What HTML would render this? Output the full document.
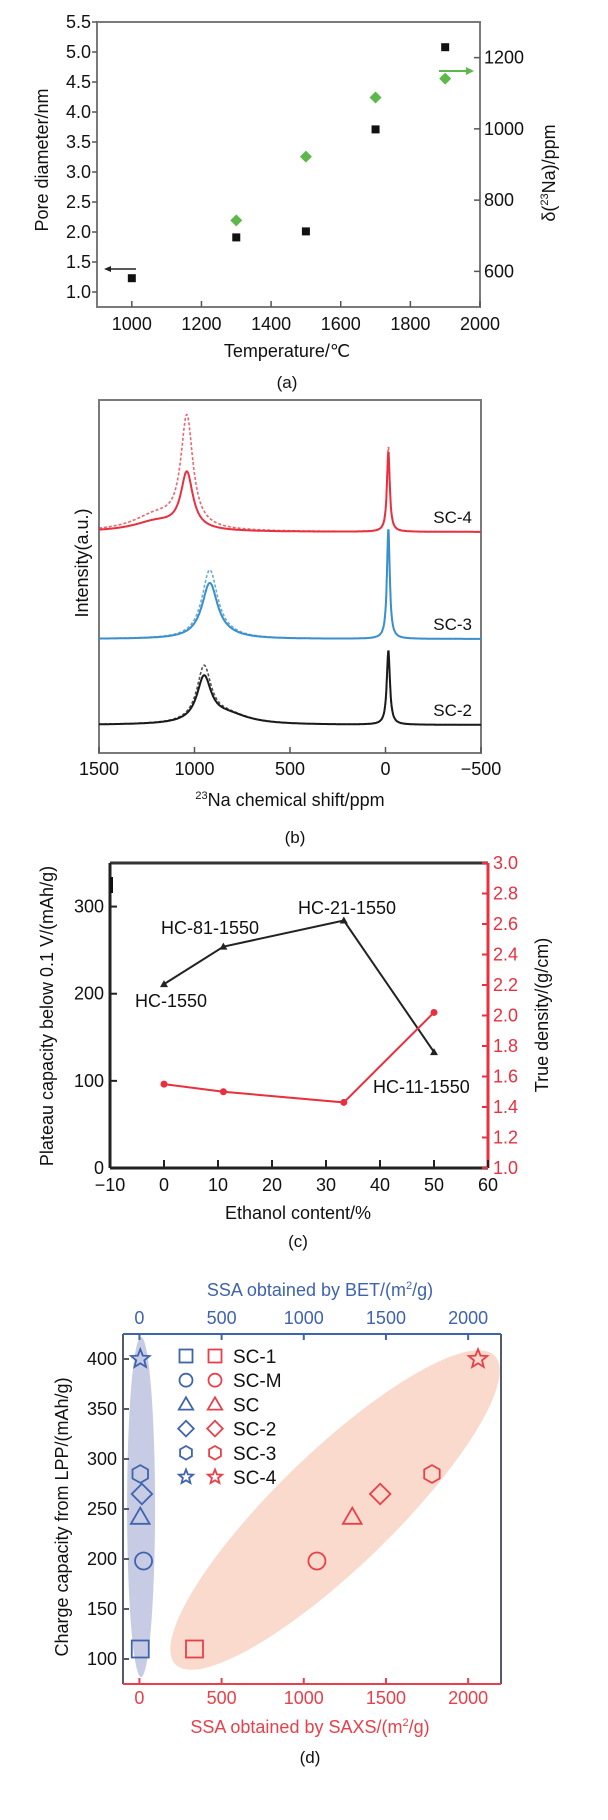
<!DOCTYPE html>
<html><head><meta charset="utf-8"><style>
html,body{margin:0;padding:0;background:#fff;}
svg{display:block;font-family:"Liberation Sans",Arial,sans-serif;}
</style></head><body>
<svg id="fig" width="608" height="1820" viewBox="0 0 608 1820" xmlns="http://www.w3.org/2000/svg">
<g id="pa"></g>
<g id="pb"></g>
<g id="pc"></g>
<g id="pd"></g>
</svg>
<script>
// ---------- Panel (a) data ----------
const aTemps = [1000, 1300, 1500, 1700, 1900];
const aPore = [1.23, 1.91, 2.01, 3.71, 5.08];
const aShiftTemps = [1300, 1500, 1700, 1900];
const aShift = [743, 922, 1088, 1141];
const aXTicks = [1000, 1200, 1400, 1600, 1800, 2000];
const aYTicks = [1.0, 1.5, 2.0, 2.5, 3.0, 3.5, 4.0, 4.5, 5.0, 5.5];
const aY2Ticks = [600, 800, 1000, 1200];
// ---------- Panel (b) data (peak components: center ppm, height, HWHM) ----------
const bSeries = ["SC-2", "SC-3", "SC-4"];
const bOffsets = [28, 114, 221];
const bCenters = [[950, -15, 830], [920, -15, 830], [1040, -15, 1200]];
const bHeights = [[44, 74, 10], [55, 110, 2], [56, 80, 10]];
const bHeightsDash = [[54, 70, 10], [68, 104, 2], [110, 85, 16]];
const bWidths = [[45, 10, 140], [50, 9, 100], [38, 9, 150]];
const bXTicks = [1500, 1000, 500, 0, -500];
// ---------- Panel (c) data ----------
const cEthanol = [0, 11, 33.3, 50];
const cPlateau = [211, 254, 284, 133];
const cDensity = [1.55, 1.50, 1.43, 2.02];
const cNames = ["HC-1550", "HC-81-1550", "HC-21-1550", "HC-11-1550"];
const cXTicks = [-10, 0, 10, 20, 30, 40, 50, 60];
const cYTicks = [0, 100, 200, 300];
const cY2Ticks = [1.0, 1.2, 1.4, 1.6, 1.8, 2.0, 2.2, 2.4, 2.6, 2.8, 3.0];
// ---------- Panel (d) data ----------
const dNames = ["SC-1", "SC-M", "SC", "SC-2", "SC-3", "SC-4"];
const dShapes = ["square", "circle", "triangle", "diamond", "hexagon", "star"];
const dCap = [110, 198, 242, 265, 285, 400];
const dBET = [5, 25, 5, 15, 5, 5];
const dSAXS = [335, 1080, 1295, 1465, 1780, 2060];
const dXTicks = [0, 500, 1000, 1500, 2000];
const dYTicks = [100, 150, 200, 250, 300, 350, 400];

const NS = "http://www.w3.org/2000/svg";
function mk(parent, tag, attrs, text){
  const e = document.createElementNS(NS, tag);
  for (const k in attrs) e.setAttribute(k, attrs[k]);
  if (text !== undefined) e.textContent = text;
  parent.appendChild(e);
  return e;
}
function lin(d0, d1, r0, r1){ return v => r0 + (v - d0) * (r1 - r0) / (d1 - d0); }
function fmt1(v){ return v.toFixed(1); }

// ================= PANEL A =================
(function(){
  const g = document.getElementById('pa');
  const L=97,R=480,T=22,B=307;
  const x = lin(900,2000,L,R), y = lin(0.75,5.5,B,T), y2 = lin(500,1300,B,T);
  let e = mk(g,'rect',{x:L,y:T,width:R-L,height:B-T,fill:'none',stroke:'#7a7a7a','stroke-width':2});
   
  aXTicks.forEach(t=>{
    e = mk(g,'line',{x1:x(t),x2:x(t),y1:B,y2:B-6,stroke:'#555','stroke-width':1.5});
     
    e = mk(g,'text',{x:x(t),y:B+23,'text-anchor':'middle','font-size':18,fill:'#111'},String(t));
     
  });
  aYTicks.forEach(t=>{
    e = mk(g,'line',{x1:L-5,x2:L,y1:y(t),y2:y(t),stroke:'#555','stroke-width':1.5});
     
    e = mk(g,'text',{x:L-6,y:y(t)+6,'text-anchor':'end','font-size':18,fill:'#111'},fmt1(t));
     
  });
  aY2Ticks.forEach(t=>{
    e = mk(g,'line',{x1:R-6,x2:R,y1:y2(t),y2:y2(t),stroke:'#555','stroke-width':1.5});
     
    e = mk(g,'text',{x:R+4,y:y2(t)+6,'text-anchor':'start','font-size':18,fill:'#111'},String(t));
     
  });
  aTemps.forEach((t,i)=>{
    e = mk(g,'rect',{x:x(t)-4,y:y(aPore[i])-4,width:8,height:8,fill:'#111'});
     
  });
  aShiftTemps.forEach((t,i)=>{
    const cx=x(t), cy=y2(aShift[i]);
    e = mk(g,'polygon',{points:`${cx},${cy-6} ${cx+6},${cy} ${cx},${cy+6} ${cx-6},${cy}`,fill:'#5cb84a'});
     
  });
  e = mk(g,'line',{x1:136,x2:108,y1:269,y2:269,stroke:'#222','stroke-width':1.5});
   
  mk(g,'polygon',{points:'104,269 111,266 111,272',fill:'#222'});
  e = mk(g,'line',{x1:439,x2:468,y1:71,y2:71,stroke:'#5cb84a','stroke-width':2});
   
  mk(g,'polygon',{points:'474,71 466,67 466,75',fill:'#5cb84a'});
  e = mk(g,'text',{x:0,y:0,transform:'translate(48,160) rotate(-90)','text-anchor':'middle','font-size':18,fill:'#111'},'Pore diameter/nm');
   
  e = mk(g,'text',{x:0,y:0,transform:'translate(555,173) rotate(-90)','text-anchor':'middle','font-size':18,fill:'#111'});
   
  e.innerHTML = 'δ(<tspan font-size="11" dy="-7">23</tspan><tspan dy="7">Na)/ppm</tspan>';
  e = mk(g,'text',{x:287,y:357,'text-anchor':'middle','font-size':18,fill:'#111'},'Temperature/℃');
   
  e = mk(g,'text',{x:287,y:388,'text-anchor':'middle','font-size':17,fill:'#111'},'(a)');
   
})();

// ================= PANEL B =================
(function(){
  const g = document.getElementById('pb');
  const L=99,R=481,T=400,B=753;
  const x = lin(1500,-500,L,R), y = lin(0,353,B,T);
  let e = mk(g,'rect',{x:L,y:T,width:R-L,height:B-T,fill:'none',stroke:'#7a7a7a','stroke-width':2});
   
  const cols = ['#1a1a1a','#3a8fcc','#e8303f'];
  function curve(s, heights){
    let d='';
    for(let p=1500;p>=-500;p-=2){
      let v=bOffsets[s];
      for(let k=0;k<bCenters[s].length;k++){
        const w=bWidths[s][k], dx=p-bCenters[s][k];
        v += heights[s][k]*w*w/(dx*dx+w*w);
      }
      d += (d?'L':'M')+x(p).toFixed(1)+','+y(v).toFixed(1);
    }
    return d;
  }
  bSeries.forEach((n,s)=>{
    e = mk(g,'path',{d:curve(s,bHeightsDash),fill:'none',stroke:cols[s],'stroke-width':1.6,'stroke-dasharray':'3,2',opacity:0.75});
     
    e = mk(g,'path',{d:curve(s,bHeights),fill:'none',stroke:cols[s],'stroke-width':2});
     
    e = mk(g,'text',{x:472,y:y(bOffsets[s])-9,'text-anchor':'end','font-size':17,fill:'#111'},n);
     
  });
  bXTicks.forEach(t=>{
    e = mk(g,'line',{x1:x(t),x2:x(t),y1:B,y2:B-6,stroke:'#555','stroke-width':1.5});
     
    e = mk(g,'text',{x:x(t),y:B+22,'text-anchor':'middle','font-size':18,fill:'#111'},t<0?'−'+(-t):String(t));
     
  });
  e = mk(g,'text',{x:0,y:0,transform:'translate(88,563) rotate(-90)','text-anchor':'middle','font-size':18,fill:'#111'},'Intensity(a.u.)');
   
  e = mk(g,'text',{x:290,y:806,'text-anchor':'middle','font-size':18,fill:'#111'});
   
  e.innerHTML = '<tspan font-size="11" dy="-7">23</tspan><tspan dy="7">Na chemical shift/ppm</tspan>';
  e = mk(g,'text',{x:295,y:843,'text-anchor':'middle','font-size':17,fill:'#111'},'(b)');
   
})();

// ================= PANEL C =================
(function(){
  const g = document.getElementById('pc');
  const L=110,R=488,T=863,B=1168;
  const x = lin(-10,60,L,R), y = lin(0,350,B,T), y2 = lin(1.0,3.0,B,T);
  let e = mk(g,'line',{x1:L,x2:R,y1:T,y2:T,stroke:'#333','stroke-width':3});
   
  e = mk(g,'line',{x1:L,x2:L,y1:T,y2:B,stroke:'#222','stroke-width':3});
   
  mk(g,'rect',{x:L,y:T+14,width:3,height:16,fill:'#111'});
  e = mk(g,'line',{x1:L,x2:R,y1:B,y2:B,stroke:'#222','stroke-width':3});
   
  e = mk(g,'line',{x1:R,x2:R,y1:T,y2:B,stroke:'#e8303f','stroke-width':3});
   
  cXTicks.forEach(t=>{
    e = mk(g,'line',{x1:x(t),x2:x(t),y1:B,y2:B-8,stroke:'#222','stroke-width':2});
     
    e = mk(g,'text',{x:x(t),y:B+23,'text-anchor':'middle','font-size':18,fill:'#111'},t<0?'−'+(-t):String(t));
     
  });
  cYTicks.forEach(t=>{
    e = mk(g,'line',{x1:L,x2:L+7,y1:y(t),y2:y(t),stroke:'#222','stroke-width':2});
     
    e = mk(g,'text',{x:L-6,y:y(t)+6,'text-anchor':'end','font-size':18,fill:'#111'},String(t));
     
  });
  cY2Ticks.forEach(t=>{
    e = mk(g,'line',{x1:R-6,x2:R,y1:y2(t),y2:y2(t),stroke:'#e8303f','stroke-width':2});
     
    e = mk(g,'text',{x:R+5,y:y2(t)+6,'text-anchor':'start','font-size':18,fill:'#e8303f'},fmt1(t));
     
  });
  e = mk(g,'polyline',{points:cEthanol.map((v,i)=>x(v)+','+y(cPlateau[i])).join(' '),fill:'none',stroke:'#222','stroke-width':2});
   
  e = mk(g,'polyline',{points:cEthanol.map((v,i)=>x(v)+','+y2(cDensity[i])).join(' '),fill:'none',stroke:'#e8303f','stroke-width':2});
   
  cEthanol.forEach((v,i)=>{
    const cx=x(v), cy=y(cPlateau[i]);
    e = mk(g,'polygon',{points:`${cx},${cy-4} ${cx+4},${cy+3} ${cx-4},${cy+3}`,fill:'#222'});
     
    e = mk(g,'circle',{cx:cx,cy:y2(cDensity[i]),r:3.5,fill:'#e8303f'});
     
  });
  const lp=[[135,1007],[161,934],[298,914],[373,1093]];
  cNames.forEach((n,i)=>{
    e = mk(g,'text',{x:lp[i][0],y:lp[i][1],'font-size':18,fill:'#111'},n);
     
  });
  e = mk(g,'text',{x:0,y:0,transform:'translate(53,1016) rotate(-90)','text-anchor':'middle','font-size':18,fill:'#111'},'Plateau capacity below 0.1 V/(mAh/g)');
   
  e = mk(g,'text',{x:0,y:0,transform:'translate(548,1015) rotate(-90)','text-anchor':'middle','font-size':18,fill:'#111'},'True density/(g/cm)');
   
  e = mk(g,'text',{x:298,y:1219,'text-anchor':'middle','font-size':18,fill:'#111'},'Ethanol content/%');
   
  e = mk(g,'text',{x:298,y:1247,'text-anchor':'middle','font-size':17,fill:'#111'},'(c)');
   
})();

// ================= PANEL D =================
(function(){
  const g = document.getElementById('pd');
  const L=123,R=501,T=1334,B=1684;
  const x = lin(-100,2200,L,R), y = lin(75,425,B,T);
  const BLUE='#3f63ad', RED='#e8404a';
  let e = mk(g,'ellipse',{cx:x(10),cy:1507,rx:14,ry:170,fill:'#c7cce4'});
   
  e = mk(g,'ellipse',{cx:335,cy:1510,rx:222,ry:58,transform:'rotate(-44 335 1510)',fill:'#f9dacc'});
   
  e = mk(g,'line',{x1:L,x2:L,y1:T,y2:B,stroke:'#555a6a','stroke-width':2});
   
  e = mk(g,'line',{x1:R,x2:R,y1:T,y2:B,stroke:'#555a6a','stroke-width':2});
   
  e = mk(g,'line',{x1:L,x2:R,y1:T,y2:T,stroke:BLUE,'stroke-width':2});
   
  e = mk(g,'line',{x1:L,x2:R,y1:B,y2:B,stroke:RED,'stroke-width':2});
   
  dXTicks.forEach(t=>{
    e = mk(g,'line',{x1:x(t),x2:x(t),y1:T,y2:T+6,stroke:BLUE,'stroke-width':2});
     
    e = mk(g,'text',{x:x(t),y:1324,'text-anchor':'middle','font-size':18,fill:BLUE},String(t));
     
    e = mk(g,'line',{x1:x(t),x2:x(t),y1:B,y2:B-6,stroke:RED,'stroke-width':2});
     
    e = mk(g,'text',{x:x(t),y:1704,'text-anchor':'middle','font-size':18,fill:RED},String(t));
     
  });
  dYTicks.forEach(t=>{
    e = mk(g,'line',{x1:L,x2:L+6,y1:y(t),y2:y(t),stroke:'#555a6a','stroke-width':2});
     
    e = mk(g,'text',{x:L-6,y:y(t)+6,'text-anchor':'end','font-size':18,fill:'#111'},String(t));
     
  });
  function marker(shape,cx,cy,s,col){
    const h=s/2, sw=1.8;
    if(shape==='square') return mk(g,'rect',{x:cx-h,y:cy-h,width:s,height:s,fill:'none',stroke:col,'stroke-width':sw});
    if(shape==='circle') return mk(g,'circle',{cx:cx,cy:cy,r:h,fill:'none',stroke:col,'stroke-width':sw});
    let pts=[];
    if(shape==='triangle') pts=[[0,-h*1.1],[h*1.1,h*0.8],[-h*1.1,h*0.8]];
    if(shape==='diamond') pts=[[0,-h*1.2],[h*1.2,0],[0,h*1.2],[-h*1.2,0]];
    if(shape==='hexagon') for(let k=0;k<6;k++){const a=Math.PI/3*k+Math.PI/6;pts.push([h*1.05*Math.cos(a),h*1.05*Math.sin(a)]);}
    if(shape==='star') for(let k=0;k<10;k++){const a=-Math.PI/2+Math.PI/5*k, r=k%2?h*0.5:h*1.15;pts.push([r*Math.cos(a),r*Math.sin(a)]);}
    return mk(g,'polygon',{points:pts.map(p=>(cx+p[0]).toFixed(1)+','+(cy+p[1]).toFixed(1)).join(' '),fill:'none',stroke:col,'stroke-width':sw});
  }
  dShapes.forEach((sh,i)=>{
    e = marker(sh,x(dBET[i]),y(dCap[i]),17,BLUE);
     
    e = marker(sh,x(dSAXS[i]),y(dCap[i]),17,RED);
     
    const ly = 1356 + i*24.2;
    e = marker(sh,186,ly,13,BLUE);
     
    e = marker(sh,215,ly,13,RED);
     
    e = mk(g,'text',{x:233,y:ly+7,'font-size':19,fill:'#111'},dNames[i]);
     
  });
  e = mk(g,'text',{x:320,y:1296,'text-anchor':'middle','font-size':18,fill:BLUE});
   
  e.innerHTML = 'SSA obtained by BET/(m<tspan font-size="11" dy="-7">2</tspan><tspan dy="7">/g)</tspan>';
  e = mk(g,'text',{x:310,y:1733,'text-anchor':'middle','font-size':18,fill:RED});
   
  e.innerHTML = 'SSA obtained by SAXS/(m<tspan font-size="11" dy="-7">2</tspan><tspan dy="7">/g)</tspan>';
  e = mk(g,'text',{x:0,y:0,transform:'translate(68,1517) rotate(-90)','text-anchor':'middle','font-size':18,fill:'#111'},'Charge capacity from LPP/(mAh/g)');
   
  e = mk(g,'text',{x:310,y:1763,'text-anchor':'middle','font-size':17,fill:'#111'},'(d)');
   
})();
</script>
</body></html>
